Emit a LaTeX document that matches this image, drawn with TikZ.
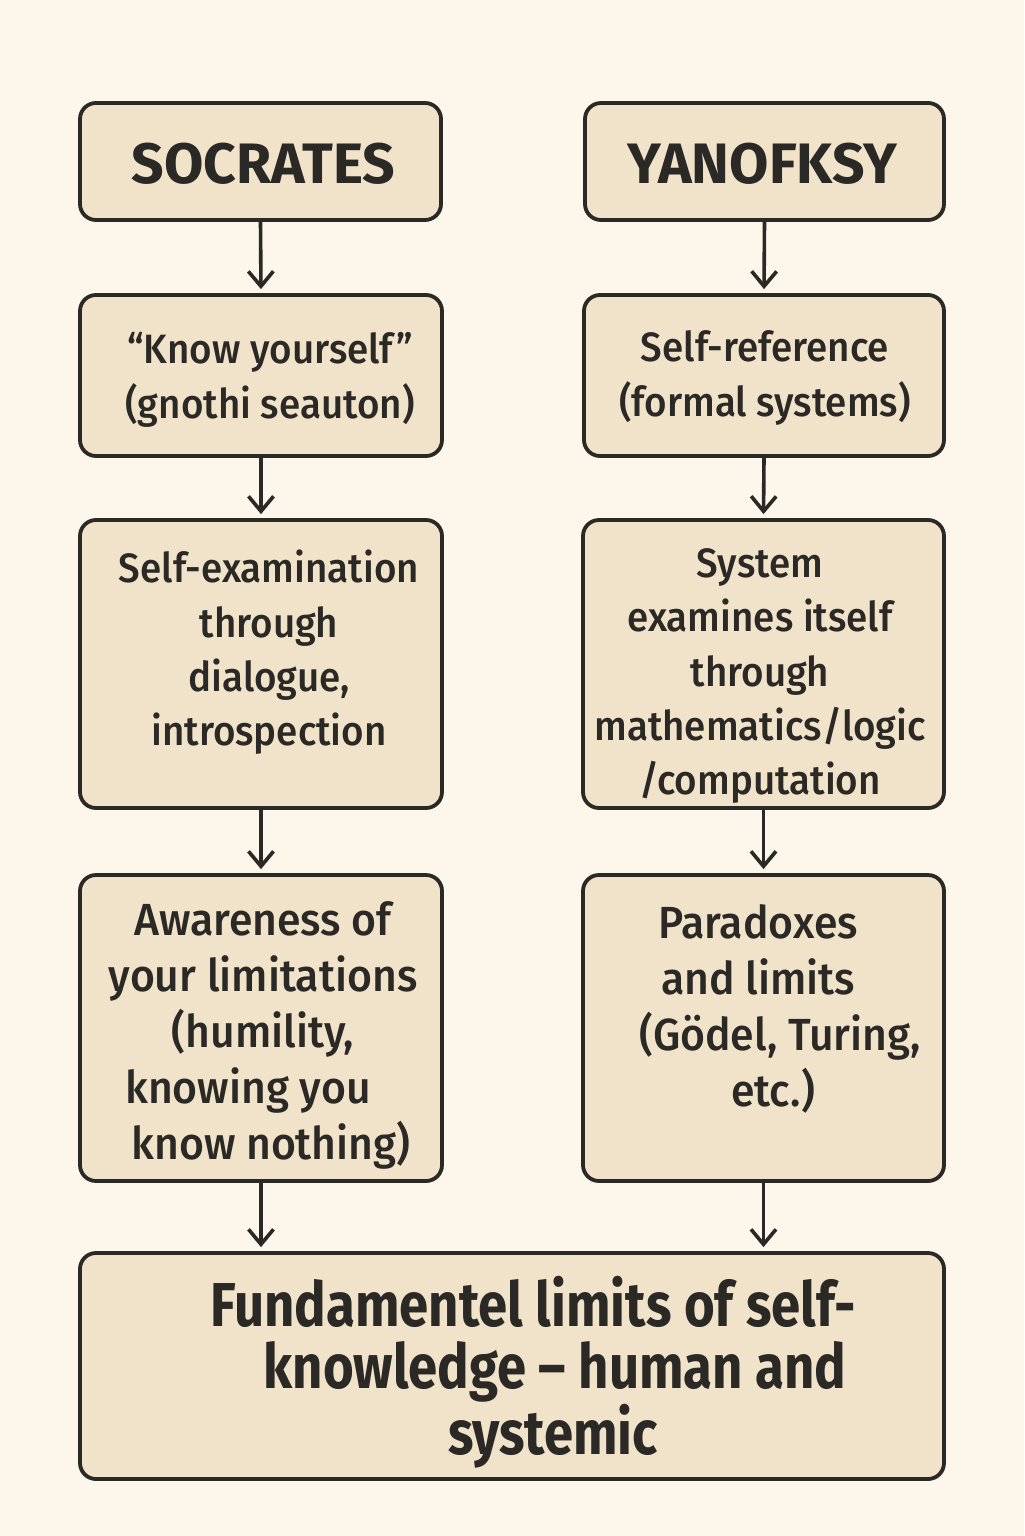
\documentclass[tikz,border=0pt]{standalone}
\usepackage{fontspec}
\setmainfont{Fira Sans}
\newfontfamily\bodyfont[FakeStretch=0.94, UprightFont={* Medium}]{Fira Sans}
\newfontfamily\bigbodyfont[FakeStretch=0.95, UprightFont={* Medium}]{Fira Sans}
\newfontfamily\condfont[FakeStretch=0.85]{Fira Sans}
\usetikzlibrary{arrows.meta,calc}
\definecolor{bgc}{HTML}{FCF6EB}
\definecolor{boxfill}{HTML}{F0E3C9}
\definecolor{linec}{HTML}{2B2925}
\tikzset{
  box/.style={draw=linec, line width=1.9pt, fill=boxfill, rounded corners=8pt, inner sep=0pt},
  txt/.style={align=center, text=linec, inner sep=0pt, font=\bodyfont\fontsize{20.5}{27.2}\selectfont},
  bigtxt/.style={align=center, text=linec, inner sep=0pt, font=\bigbodyfont\fontsize{22.5}{28}\selectfont},
  ttl/.style={align=center, text=linec, inner sep=0pt, font=\bfseries\fontsize{28.5}{30}\selectfont},
  fin/.style={align=center, text=linec, inner sep=0pt, font=\condfont\bfseries\fontsize{31}{31}\selectfont},
  arr/.style={draw=linec, line width=1.8pt, shorten >=2pt, -{Straight Barb[length=7.5pt,width=12.5pt,line width=1.8pt]}}
}
\begin{document}
\begin{tikzpicture}[x=0.5pt,y=-0.5pt]
\useasboundingbox[fill=bgc] (0,0) rectangle (1024,1536);
% boxes
\node[box, minimum width=180.5pt, minimum height=58.5pt] (s1) at (260.5,161.5) {};
\node[box, minimum width=179.5pt, minimum height=58.5pt] (y1) at (764.5,161.5) {};
\node[box, minimum width=181pt, minimum height=80.5pt] (s2) at (261,375.5) {};
\node[box, minimum width=180pt, minimum height=80.5pt] (y2) at (764,375.5) {};
\node[box, minimum width=181pt, minimum height=144pt] (s3) at (261,664) {};
\node[box, minimum width=180.5pt, minimum height=144pt] (y3) at (763.5,664) {};
\node[box, minimum width=181pt, minimum height=153pt] (s4) at (261,1028) {};
\node[box, minimum width=180.5pt, minimum height=153pt] (y4) at (763.5,1028) {};
\node[box, minimum width=432pt, minimum height=113pt] (f) at (512,1366) {};
% texts
\node[ttl] (s1t) at ($(s1.center)+(3,2)$) {SOCRATES};
\node[ttl] (y1t) at ($(y1.center)+(-2,2)$) {YANOFKSY};
\node[txt] (s2t) at ($(s2.center)+(9,4.5)$) {“Know yourself”\\(gnothi seauton)};
\node[txt] (y2t) at ($(y2.center)+(1,2.5)$) {Self-reference\\(formal systems)};
\node[txt] (s3t) at ($(s3.center)+(8,-11.5)$) {Self-examination\\through\\dialogue,\\introspection};
\node[txt] (y3t) at ($(y3.center)+(-3.5,12)$) {System\\examines itself\\through\\mathematics/logic\\/computation};
\node[bigtxt] (s4t) at ($(s4.center)+(2,7)$) {Awareness of\\your limitations\\(humility,\\\hspace*{-15pt}knowing you\\\hspace*{8pt}know nothing)};
\node[bigtxt] (y4t) at ($(y4.center)+(-5.5,-19)$) {Paradoxes\\and limits\\\hspace*{22pt}(Gödel, Turing,\\\hspace*{15pt}etc.)};
\node[fin] (ft) at ($(f.center)+(21,6)$) {Fundamentel limits of self-\\\hspace*{22pt}knowledge – human and\\\hspace*{20pt}systemic};
% arrows
\draw[arr] (s1.south) -- (s2.north);
\draw[arr] (y1.south) -- (y2.north);
\draw[arr] (s2.south) -- (s3.north);
\draw[arr] (y2.south) -- (y3.north);
\draw[arr] (s3.south) -- (s4.north);
\draw[arr] (y3.south) -- (y4.north);
\draw[arr] (s4.south) -- (s4.south |- f.north);
\draw[arr] (y4.south) -- (y4.south |- f.north);
\end{tikzpicture}
\end{document}
